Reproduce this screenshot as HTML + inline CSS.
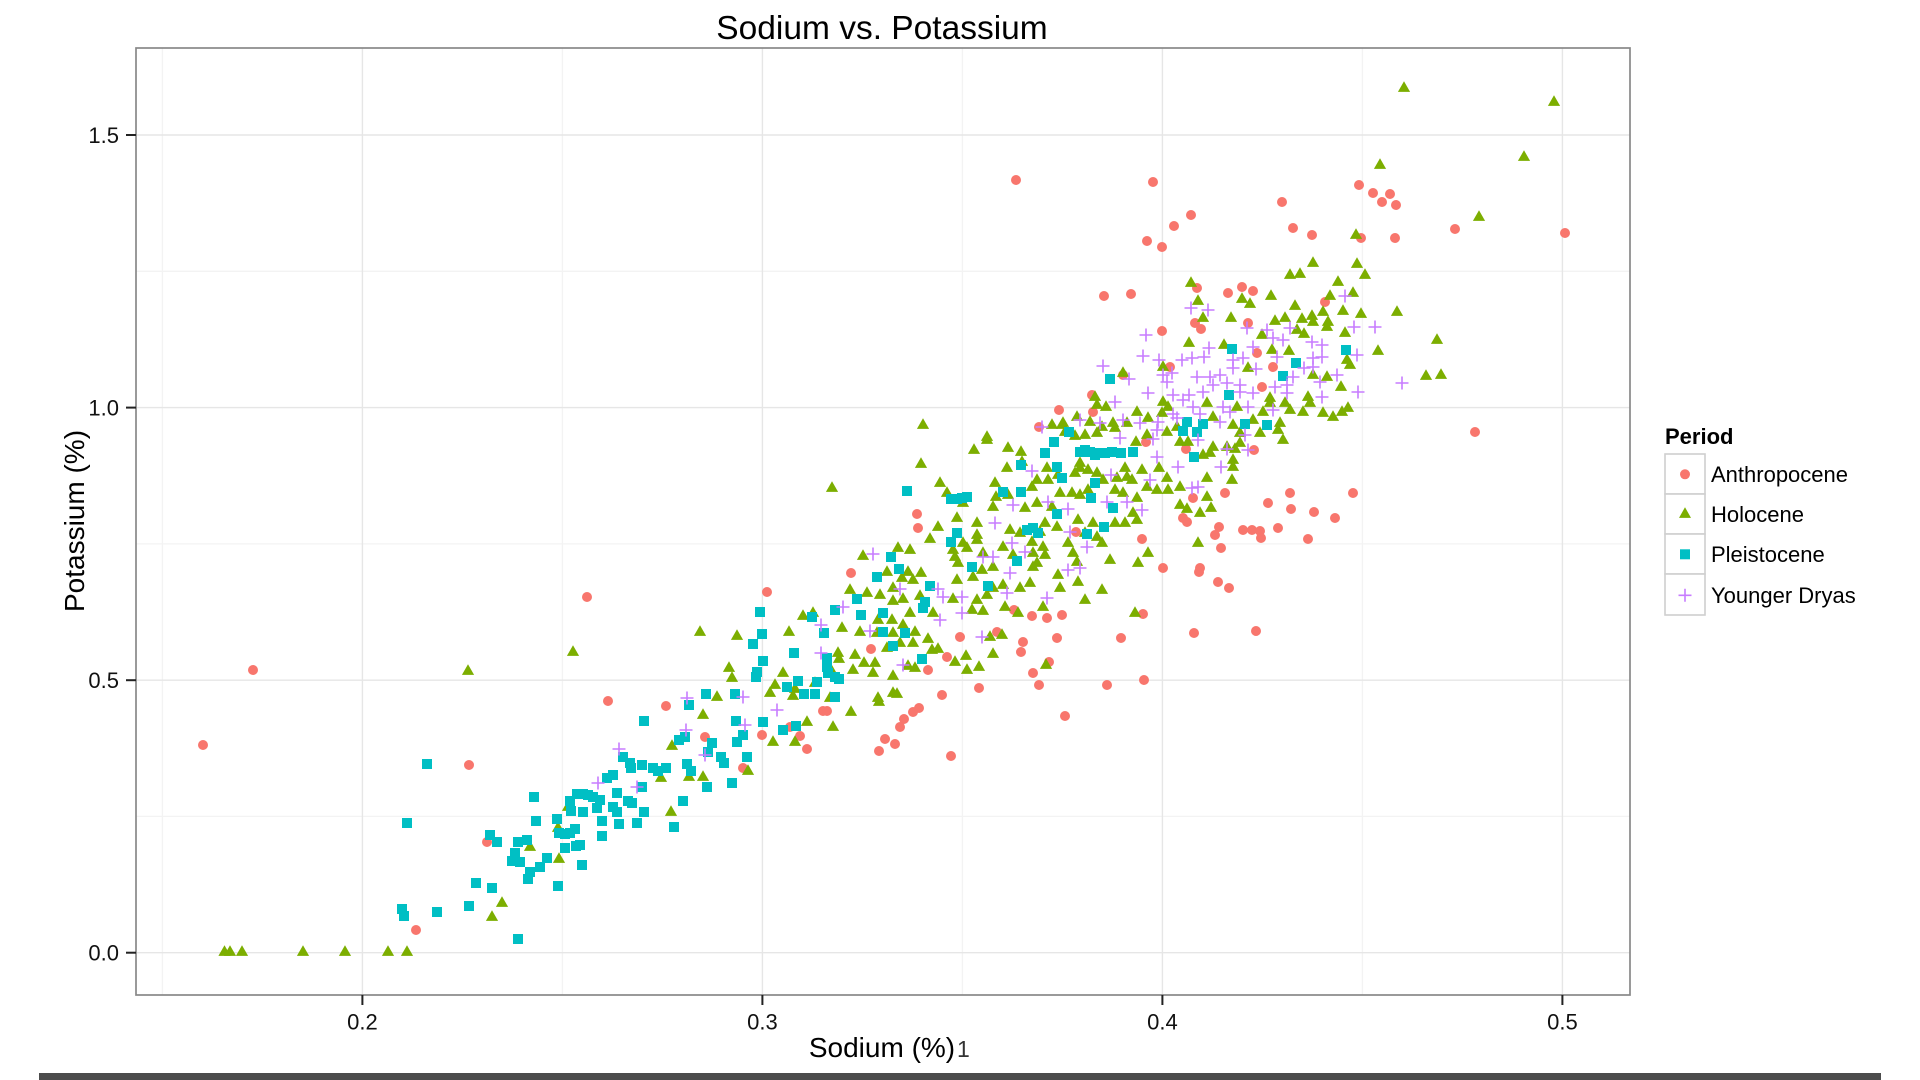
<!DOCTYPE html>
<html>
<head>
<meta charset="utf-8">
<style>
html,body{margin:0;padding:0;background:#fff;}
svg{display:block;}
</style>
</head>
<body>
<svg id="s" width="1920" height="1080" viewBox="0 0 1920 1080" xmlns="http://www.w3.org/2000/svg" font-family="'Liberation Sans', Arial, sans-serif">
<rect width="1920" height="1080" fill="#ffffff"/>
<!-- minor grid -->
<g stroke="#f3f3f3" stroke-width="1.3">
<line x1="162.4" y1="48" x2="162.4" y2="995"/>
<line x1="562.4" y1="48" x2="562.4" y2="995"/>
<line x1="962.4" y1="48" x2="962.4" y2="995"/>
<line x1="1362.4" y1="48" x2="1362.4" y2="995"/>
<line x1="136" y1="816.4" x2="1630" y2="816.4"/>
<line x1="136" y1="543.9" x2="1630" y2="543.9"/>
<line x1="136" y1="271.3" x2="1630" y2="271.3"/>
</g>
<!-- major grid -->
<g stroke="#e6e6e6" stroke-width="1.4">
<line x1="362.4" y1="48" x2="362.4" y2="995"/>
<line x1="762.4" y1="48" x2="762.4" y2="995"/>
<line x1="1162.4" y1="48" x2="1162.4" y2="995"/>
<line x1="1562.4" y1="48" x2="1562.4" y2="995"/>
<line x1="136" y1="952.7" x2="1630" y2="952.7"/>
<line x1="136" y1="680.2" x2="1630" y2="680.2"/>
<line x1="136" y1="407.6" x2="1630" y2="407.6"/>
<line x1="136" y1="135" x2="1630" y2="135"/>
</g>
<g id="pts"></g>
<!-- panel border -->
<rect x="136" y="48" width="1494" height="947" fill="none" stroke="#888888" stroke-width="1.7"/>
<!-- ticks -->
<g stroke="#222" stroke-width="2">
<line x1="126" y1="135" x2="136" y2="135"/>
<line x1="126" y1="407.6" x2="136" y2="407.6"/>
<line x1="126" y1="680.2" x2="136" y2="680.2"/>
<line x1="126" y1="952.7" x2="136" y2="952.7"/>
<line x1="362.4" y1="995" x2="362.4" y2="1005"/>
<line x1="762.4" y1="995" x2="762.4" y2="1005"/>
<line x1="1162.4" y1="995" x2="1162.4" y2="1005"/>
<line x1="1562.4" y1="995" x2="1562.4" y2="1005"/>
</g>
<g font-size="22" fill="#111" text-anchor="end">
<text x="119" y="143">1.5</text>
<text x="119" y="415.6">1.0</text>
<text x="119" y="688.2">0.5</text>
<text x="119" y="960.7">0.0</text>
</g>
<g font-size="22" fill="#111" text-anchor="middle">
<text x="362.4" y="1029.5">0.2</text>
<text x="762.4" y="1029.5">0.3</text>
<text x="1162.4" y="1029.5">0.4</text>
<text x="1562.4" y="1029.5">0.5</text>
</g>
<text x="882" y="39" font-size="33.5" text-anchor="middle" fill="#000">Sodium vs. Potassium</text>
<text x="882" y="1057" font-size="28" text-anchor="middle" fill="#000">Sodium (%)</text>
<text x="957" y="1057" font-size="23" fill="#333">1</text>
<text transform="translate(84,521) rotate(-90)" font-size="28" text-anchor="middle" fill="#000">Potassium (%)</text>
<!-- legend -->
<text x="1665" y="444" font-size="22" font-weight="bold" fill="#000">Period</text>
<g fill="#fff" stroke="#cfcfcf" stroke-width="1.6">
<rect x="1665" y="454" width="40" height="40"/>
<rect x="1665" y="494" width="40" height="40"/>
<rect x="1665" y="534" width="40" height="40"/>
<rect x="1665" y="574" width="40" height="41"/>
</g>
<circle cx="1685" cy="474.3" r="5" fill="#F8766D"/>
<polygon points="1685,507.2 1679,517.9 1691,517.9" fill="#7CAE00"/>
<rect x="1680" y="549.3" width="10" height="10" fill="#00BFC4"/>
<path d="M1678.5,595.3h13M1685,588.8v13" stroke="#C77CFF" stroke-width="1.6" fill="none"/>
<g font-size="22" fill="#000">
<text x="1711" y="482">Anthropocene</text>
<text x="1711" y="522">Holocene</text>
<text x="1711" y="562">Pleistocene</text>
<text x="1711" y="603">Younger Dryas</text>
</g>
<!-- bottom dark strip -->
<rect x="39" y="1073" width="1842" height="7" fill="#4c4c4c"/>
</svg>
<script>
(function(){
var NS="http://www.w3.org/2000/svg";
var g=document.getElementById('pts');
function add(tag,a){var e=document.createElementNS(NS,tag);for(var k in a)e.setAttribute(k,a[k]);g.appendChild(e);}
var R=[203,745,253,670,587,597,608,701,666,706,469,765,487,842,416,930,
767,592,917,514,918,528,851,573,960,637,997,632,871,649,947,657,928,670,979,688,942,695,823,711,827,711,919,708,913,712,904,719,900,727,885,739,895,744,879,751,951,756,800,736,807,749,790,727,762,735,705,737,743,768,
1197,288,1242,287,1253,291,1228,293,1104,296,1131,294,1325,302,1195,323,1201,329,1248,323,1162,331,1257,353,1170,367,1273,367,1123,375,1262,387,1092,395,1059,410,1093,412,1039,427,1146,442,1254,450,1186,449,1193,498,1225,493,1183,518,1187,522,1268,503,1290,493,1291,509,1314,512,1335,518,1353,493,1278,528,1243,530,1252,530,1260,531,1261,538,1308,539,1219,527,1215,535,1221,548,1163,568,1200,568,1199,572,1218,582,1229,588,1143,614,1142,539,1076,532,1062,615,1032,616,1014,610,1047,618,
1153,182,1359,185,1373,193,1390,194,1382,202,1396,205,1282,202,1191,215,1174,226,1147,241,1162,247,1293,228,1312,235,1455,229,1565,233,1361,238,1395,238,
1016,180,1475,432,
1194,633,1256,631,1023,642,1021,652,1057,638,1121,638,1049,662,1033,673,1039,685,1107,685,1144,680,1065,716];
var G=[224.5,952,230,952,242,952,303,952,345,952,388,952,
468,671,573,652,672,746,689,777,661,778,671,812,568,807,558,828,559,859,530,847,502,903,492,917,407,952,
700,632,737,636,789,632,974,450,987,440,921,464,940,483,832,488,947,493,963,503,995,483,996,497,993,507,957,518,977,523,938,527,930,539,963,543,977,535,977,540,953,550,967,548,955,557,958,563,983,553,982,570,993,567,957,580,973,577,898,548,910,550,863,556,887,572,908,572,921,573,902,578,913,580,893,588,850,590,867,593,953,599,903,599,920,596,880,595,893,601,910,613,972,610,983,611,977,600,987,595,993,588,933,613,878,620,892,620,860,632,893,633,903,625,915,632,813,613,803,616,842,628,990,637,928,639,938,649,932,650,913,643,900,643,887,648,877,633,855,655,838,653,831,670,839,659,864,663,875,663,873,673,853,670,908,666,915,668,955,662,966,656,993,654,967,670,979,667,893,676,893,693,897,694,878,698,879,702,830,698,851,712,833,727,807,722,795,742,773,742,793,696,783,673,795,689,815,683,775,685,770,693,729,668,732,678,717,697,703,715,748,771,703,777,
923,425,987,437,1063,423,1002,635,1046,665,
1313,263,1290,275,1300,274,1357,264,1365,275,1338,282,1191,283,1271,296,1242,299,1250,304,1198,301,1330,296,1353,293,1295,306,1343,311,1323,312,1361,314,1397,312,1203,318,1231,318,1275,321,1285,318,1302,319,1312,316,1313,322,1328,322,1327,327,1262,335,1297,330,1345,333,1189,343,1224,345,1304,334,1289,351,1272,350,1378,351,1347,360,1350,365,1163,367,1248,368,1313,375,1327,377,1123,373,1341,387,1308,397,1310,403,1270,398,1095,397,1097,405,1106,407,1163,402,1168,407,1207,403,1237,407,1263,412,1270,403,1285,403,1290,410,1303,412,1323,413,1333,417,1342,412,1348,408,1137,412,1162,413,1213,417,1148,418,1127,423,1113,423,1090,422,1077,417,1062,425,1052,425,1065,432,1075,436,1085,435,1097,433,1102,427,1115,428,1136,442,1147,435,1167,432,1177,427,1188,442,1180,442,1233,425,1253,420,1240,433,1260,433,1280,423,1278,430,1283,440,1213,447,1227,447,1235,449,1240,443,1203,455,1210,453,1233,460,1233,467,1232,480,1159,468,1142,470,1167,478,1147,487,1157,490,1168,490,1180,487,1207,478,1207,497,1180,505,1187,509,1200,513,1211,508,1198,543,1138,563,1148,553,1135,613,
1008,448,1021,452,1007,468,1022,462,1047,468,1058,475,1048,480,1037,480,1032,487,1008,495,1025,508,1037,503,1052,507,1060,493,1072,493,1080,495,1075,473,1080,463,1080,468,1088,470,1097,473,1103,480,1117,478,1125,468,1127,477,1132,480,1088,490,1115,490,1123,493,1137,498,1133,513,1137,520,1125,523,1115,523,1093,523,1078,520,1097,537,1102,543,1085,533,1068,543,1057,527,1040,532,1045,523,1032,542,1043,547,1020,533,1010,530,1003,547,1013,555,1033,553,1037,563,1045,555,1073,553,1077,562,1058,575,1110,560,1102,590,1085,600,1078,582,1060,588,1043,607,1030,583,1020,588,1003,585,1005,607,1018,613,1033,567,
1404,88,1554,102,1524,157,1380,165,1479,217,1356,235,1437,340,1426,376,1441,375];
var C=[427,764,407,823,402,909,404,916,437,912,469,906,476,883,492,888,518,939,490,835,497,842,518,842,527,840,515,853,512,861,520,862,534,797,536,821,557,819,559,833,565,834,570,833,575,829,565,848,576,846,580,845,582,865,547,858,540,867,530,872,528,879,558,886,577,794,583,794,588,795,593,797,600,800,570,801,571,811,583,812,597,808,607,778,613,775,642,787,617,793,628,801,632,803,644,812,637,823,619,824,613,807,617,812,602,821,602,836,623,757,630,763,631,768,642,765,653,768,658,771,666,768,687,764,691,771,683,801,674,827,685,737,679,740,689,705,644,721,
760,612,762,634,753,644,907,491,951,499,957,499,962,498,967,497,957,533,951,542,972,567,891,557,899,569,877,577,930,586,988,586,857,599,861,615,835,610,925,602,923,608,883,613,883,632,905,633,812,617,824,633,893,646,827,658,827,667,828,673,835,677,839,679,922,659,835,697,796,726,783,730,763,722,815,694,804,694,798,681,787,687,817,682,794,653,763,661,757,672,756,677,706,694,735,694,736,721,743,735,737,742,712,743,708,752,721,757,724,763,747,757,707,787,732,783,
1232,349,1346,350,1296,363,1283,376,1110,379,1229,395,1069,432,1183,431,1187,422,1197,432,1203,424,1245,424,1267,425,1194,457,1021,465,1045,453,1054,442,1057,467,1062,478,1021,492,1003,492,1057,514,1080,452,1085,450,1090,452,1095,455,1100,453,1105,453,1112,452,1121,453,1133,452,1095,483,1091,498,1113,508,1104,527,1087,534,1027,530,1033,528,1038,533,1017,561];
var P=[687,698,686,730,619,749,598,783,637,787,
873,554,900,589,938,589,943,597,962,597,843,607,962,613,940,620,870,631,821,625,982,637,821,653,903,665,777,710,743,697,745,725,705,755,995,523,983,557,993,557,
1191,308,1208,310,1345,296,1247,328,1267,330,1290,328,1354,327,1375,327,1146,335,1209,348,1253,347,1273,338,1283,340,1312,342,1322,345,1357,355,1143,356,1159,360,1182,360,1192,358,1204,357,1233,360,1243,358,1277,357,1313,358,1322,357,1103,366,1172,373,1163,375,1197,377,1210,377,1220,375,1233,368,1256,369,1293,377,1304,368,1313,367,1337,375,1320,382,1129,379,1167,382,1213,385,1227,383,1240,385,1275,387,1287,385,1148,393,1173,395,1189,395,1203,392,1240,392,1253,393,1287,393,1358,392,1322,397,1115,402,1183,400,1193,407,1223,407,1248,407,1273,410,1173,414,1200,414,1230,412,1158,422,1140,423,1123,420,1100,423,1080,420,1042,427,1120,438,1153,439,1157,430,1198,440,1177,418,1220,422,1245,435,1227,449,1248,450,1221,467,1178,467,1157,457,1150,480,1192,488,1198,487,1032,471,1013,505,1048,502,1068,509,1111,475,1107,502,1127,502,1142,510,1070,532,1087,547,1012,543,1025,552,1068,570,1080,568,1047,598,1010,573,1007,593,
1402,383];
var i,x,y;
for(i=0;i<R.length;i+=2){add('circle',{cx:R[i],cy:R[i+1],r:5,fill:'#F8766D'});}
for(i=0;i<G.length;i+=2){x=G[i];y=G[i+1];add('polygon',{points:x+','+(y-6.8)+' '+(x-6.1)+','+(y+3.9)+' '+(x+6.1)+','+(y+3.9),fill:'#7CAE00'});}
for(i=0;i<C.length;i+=2){add('rect',{x:C[i]-5,y:C[i+1]-5,width:10,height:10,fill:'#00BFC4'});}
for(i=0;i<P.length;i+=2){x=P[i];y=P[i+1];add('path',{d:'M'+(x-6.5)+','+y+'h13M'+x+','+(y-6.5)+'v13',stroke:'#C77CFF','stroke-width':1.6,fill:'none'});}
})();
</script>
</body>
</html>
